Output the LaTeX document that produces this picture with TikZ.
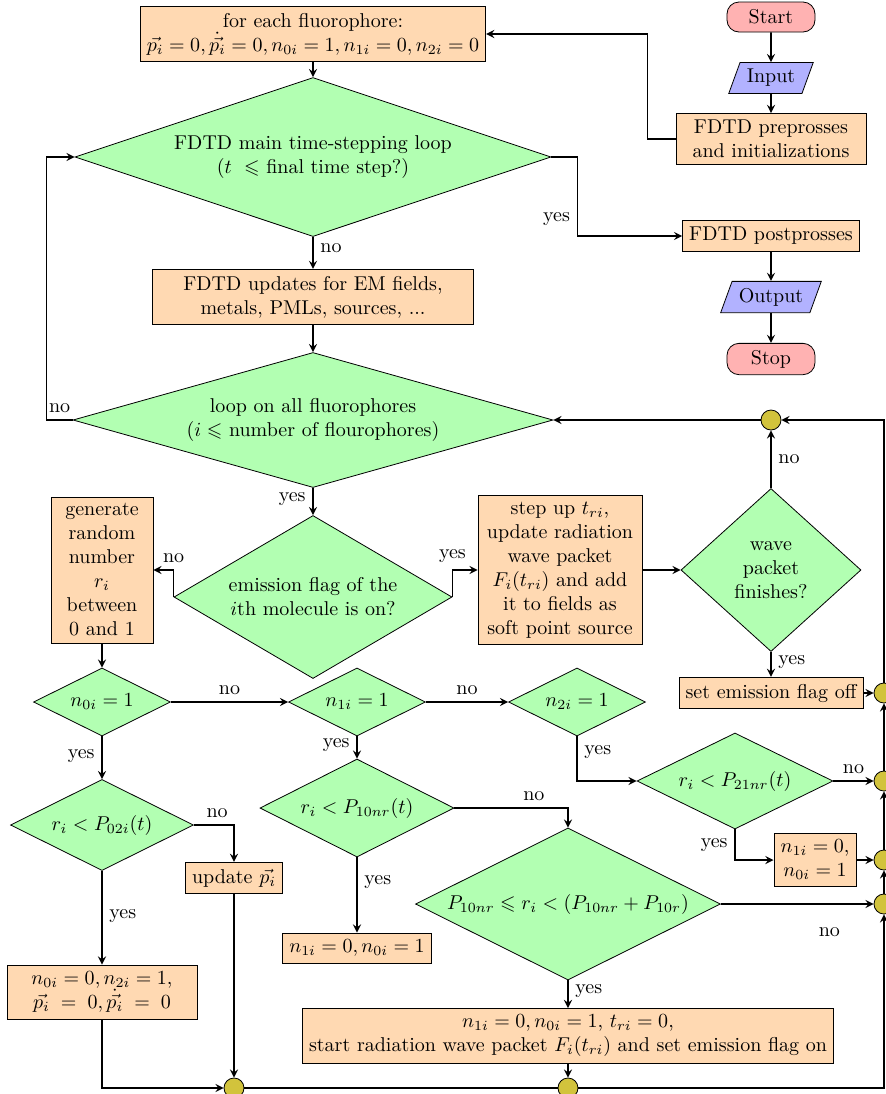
\documentclass[tikz,border=0pt]{standalone}
\usepackage{amsmath}
\usepackage{amsfonts}
\usepackage{amssymb}
\usepackage{tikz}
\usetikzlibrary{positioning,shapes.geometric}
\definecolor{jointyellow}{RGB}{210,195,60}

\begin{document}
\begin{tikzpicture}[on grid,>=stealth,
    startstop/.style={rectangle,rounded corners=6pt,minimum width=44pt,minimum height=15pt,draw=black,fill=red!30},
    io/.style={trapezium,trapezium left angle=70,trapezium right angle=110,minimum height=15.5pt,draw=black,fill=blue!30},
    process/.style={rectangle,draw=black,fill=orange!30,align=center},
    decision/.style={diamond,draw=black,fill=green!30,align=center,inner sep=0pt},
    joint/.style={circle,draw=black,fill=jointyellow,minimum size=10pt,inner sep=0pt},
    arrow/.style={thick,->}]
  \useasboundingbox (-156.5pt,17pt) rectangle (286pt,-530pt);
  % main FDTD loop
  \node[process] (init) {for each fluorophore:\\$\vec{p_i}=0,\dot{\vec{p_i}}=0,n_{0i}=1,n_{1i}=0,n_{2i}=0$};
  \node[decision,aspect=3,minimum width=238pt,minimum height=79.5pt] (mainloop) [below=61.5pt of init] {FDTD main time-stepping loop\\($t\ \leqslant$ final time step?)};
  \node[process,minimum width=160.5pt] (fields) [below=70pt of mainloop] {FDTD updates for EM fields,\\metals, PMLs, sources, ...};
  \node[decision,aspect=3.5,minimum width=240pt,minimum height=67.5pt] (loop) [below=61.5pt of fields] {loop on all fluorophores\\($i\leqslant$ number of flourophores)};
  \node[decision,aspect=1.7,minimum width=139pt,minimum height=81.5pt] (emis) [below=88.5pt of loop] {emission flag of the\\$i$th molecule is on?};
  \node[process,minimum width=51pt] (rand) [above left=13.5pt and 105.5pt of emis] {generate\\random\\number\\$r_i$\\between\\0 and 1};
  \node[process,minimum width=82pt] (stepup) [above right=13.5pt and 123.5pt of emis] {step up $t_{ri}$,\\update radiation\\wave packet\\$F_i(t_{ri})$ and add\\it to fields as\\soft point source};
  \node[decision,aspect=1.1,minimum width=90pt,minimum height=81.5pt] (wave) [right=105.5pt of stepup] {wave\\packet\\finishes?};
  \node[joint] (j1) [above=75pt of wave] {};
  \node[process] (flagoff) [below=61.5pt of wave] {set emission flag off};
  \node[joint] (j2) [right=56.5pt of flagoff] {};
  % level tests
  \node[decision,aspect=2,minimum width=68.5pt,minimum height=34pt] (n0) [below=66pt of rand] {$n_{0i}=1$};
  \node[decision,aspect=2,minimum width=68.5pt,minimum height=34pt] (n1) [right=127.5pt of n0] {$n_{1i}=1$};
  \node[decision,aspect=2,minimum width=68.5pt,minimum height=34pt] (n2) [right=110pt of n1] {$n_{2i}=1$};
  \node[decision,aspect=2,minimum width=98pt,minimum height=48pt] (p21) [below right=39.5pt and 79pt of n2] {$r_i<P_{21nr}(t)$};
  \node[joint] (j3) [right=74.5pt of p21] {};
  \node[process] (reset1) [below right=39.5pt and 40pt of p21] {$n_{1i}=0$,\\$n_{0i}=1$};
  \node[joint] (j4) [right=34.5pt of reset1] {};
  \node[decision,aspect=2,minimum width=97pt,minimum height=49pt] (p10) [below=53pt of n1] {$r_i<P_{10nr}(t)$};
  \node[process] (reset2) [below=70pt of p10] {$n_{1i}=0,n_{0i}=1$};
  \node[decision,aspect=2,minimum width=152.5pt,minimum height=76pt] (p10r) [below right=48pt and 105.5pt of p10] {$P_{10nr}\leqslant r_i<(P_{10nr}+P_{10r})$};
  \node[joint] (j5) [right=158pt of p10r] {};
  \node[process] (emit) [below=66pt of p10r] {$n_{1i}=0,n_{0i}=1$, $t_{ri}=0$,\\start radiation wave packet $F_i(t_{ri})$ and set emission flag on};
  \node[joint] (j7) [below=26pt of emit] {};
  \node[decision,aspect=2,minimum width=91.5pt,minimum height=45.5pt] (p02) [below=61.5pt of n0] {$r_i<P_{02i}(t)$};
  \node[process] (updp) [below right=26.5pt and 66pt of p02] {update $\vec{p_i}$};
  \node[process,minimum width=95pt] (excite) [below=83.5pt of p02] {$n_{0i}=0,n_{2i}=1,$\\$\vec{p_i}\;=\;0,\dot{\vec{p_i}}\;=\;0$};
  \node[joint] (j6) [below=105pt of updp] {};
  % start and end
  \node[startstop] (start) [above right=8.5pt and 229pt of init] {Start};
  \node[io] (input) [below=30.5pt of start] {Input};
  \node[process,minimum width=95pt] (prep) [below=30.5pt of input] {FDTD preprosses\\and initializations};
  \node[process] (postp) [below=48.5pt of prep] {FDTD postprosses};
  \node[io] (output) [below=30.5pt of postp] {Output};
  \node[startstop] (stop) [below=31pt of output] {Stop};

  \draw[arrow] (start) -- (input);
  \draw[arrow] (input) -- (prep);
  \draw[arrow] (prep.west) -- ++(-14pt,0) |- (init.east);
  \draw[arrow] (init) -- (mainloop);
  \draw[arrow] (mainloop.east) -- ++(13pt,0) |- node[left,pos=0.39] {yes} (postp);
  \draw[arrow] (postp) -- (output);
  \draw[arrow] (output) -- (stop);
  \draw[arrow] (mainloop) -- node[right,pos=0.35] {no} (fields);
  \draw[arrow] (fields) -- (loop);
  \draw[arrow] (loop.west) -- node[above] {no} ++(-13pt,0) |- (mainloop.west);
  \draw[arrow] (loop) -- node[left,pos=0.4] {yes} (emis);
  \draw[arrow] (emis.west) |- node[above] {no} (rand);
  \draw[arrow] (emis.east) |- node[above] {yes} (stepup);
  \draw[arrow] (stepup) -- (wave);
  \draw[arrow] (wave) -- node[right] {no} (j1);
  \draw[arrow] (j1) -- (loop.east);
  \draw[arrow] (wave) -- node[right,pos=0.4] {yes} (flagoff);
  \draw[arrow] (flagoff) -- (j2);
  \draw[arrow] (rand) -- (n0);
  \draw[arrow] (n0) -- node[above] {no} (n1);
  \draw[arrow] (n1) -- node[above] {no} (n2);
  \draw[arrow] (n2.south) |- node[right,pos=0.18] {yes} (p21.west);
  \draw[arrow] (p21) -- node[above] {no} (j3);
  \draw[arrow] (p21.south) |- node[left,pos=0.25] {yes} (reset1.west);
  \draw[arrow] (reset1) -- (j4);
  \draw[arrow] (n0) -- node[left,pos=0.45] {yes} (p02);
  \draw[arrow] (n1) -- node[left,pos=0.4] {yes} (p10);
  \draw[arrow] (p02.east) -| node[above,pos=0.29] {no} (updp.north);
  \draw[arrow] (p02) -- node[right,pos=0.48] {yes} (excite);
  \draw[arrow] (p10.east) -| node[above,pos=0.35] {no} (p10r.north);
  \draw[arrow] (p10) -- node[right,pos=0.33] {yes} (reset2);
  \draw[arrow] (p10r) -- node[below=8pt,pos=0.71] {no} (j5);
  \draw[arrow] (p10r) -- node[right,pos=0.4] {yes} (emit);
  \draw[arrow] (emit) -- (j7);
  \draw[arrow] (updp) -- (j6);
  \draw[arrow] (excite.south) |- (j6.west);
  % back to the fluorophore loop
  \draw[thick] (j6) -- (j7);
  \coordinate[right=158pt of j7] (corner);
  \draw[arrow] (j7) -- (corner) -- (j5);
  \draw[arrow] (j5) -- (j4);
  \draw[arrow] (j4) -- (j3);
  \draw[arrow] (j3) -- (j2);
  \draw[arrow] (j2) |- (j1);
\end{tikzpicture}
\end{document}
